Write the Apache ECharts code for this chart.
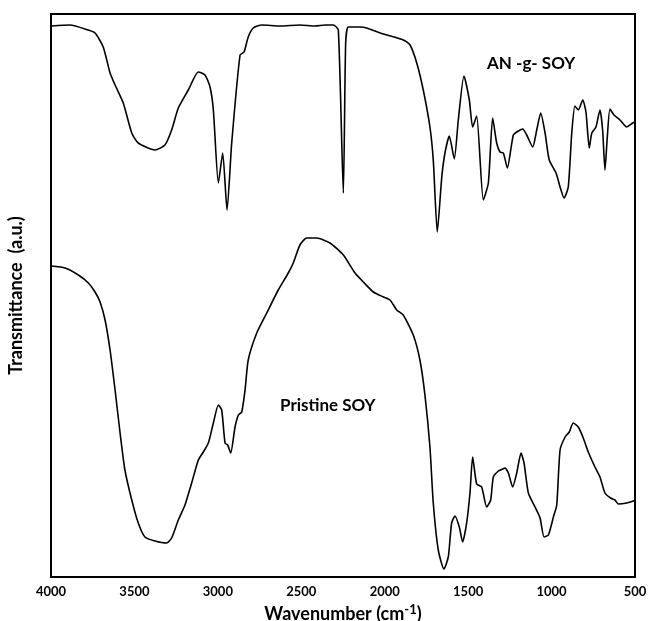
<!DOCTYPE html>
<html>
<head>
<meta charset="utf-8">
<script src="https://cdn.jsdelivr.net/npm/echarts@6/dist/echarts.min.js"></script>
<style>
  html, body { margin: 0; padding: 0; background: #fff; }
  #ftir-chart { width: 651px; height: 621px; }
</style>
</head>
<body>
<div id="ftir-chart"></div>
<script>
// wavenumber ticks (cm-1)
const xTicks = [4000, 3500, 3000, 2500, 2000, 1500, 1000, 500]

// AN-g-SOY spectrum (transmittance, arbitrary units)
const graftWavenumber = [4000, 3886, 3778, 3736, 3687, 3646, 3616, 3567, 3516, 3477, 3377, 3317, 3277, 3237, 3177, 3117, 3077, 3047, 3027, 2997, 2971, 2945, 2917, 2867, 2843, 2818, 2788, 2737, 2628, 2508, 2418, 2358, 2308, 2278, 2248, 2234, 2218, 2148, 2108, 2008, 1889, 1848, 1808, 1769, 1729, 1709, 1685, 1658, 1639, 1613, 1583, 1559, 1525, 1493, 1473, 1449, 1409, 1379, 1353, 1329, 1309, 1289, 1265, 1229, 1199, 1173, 1149, 1113, 1089, 1065, 1039, 1014, 973, 949, 925, 900, 879, 860, 840, 813, 794, 774, 759, 734, 710, 694, 680, 666, 650, 626, 590, 550, 514, 500]
const graftValue = [551, 552, 547, 544, 530, 504, 492, 474, 444, 434, 427, 432, 447, 469, 487, 505, 502, 490, 467, 394, 424, 367, 434, 522, 525, 540, 549, 552, 551, 552, 551, 552, 552, 547, 384, 534, 550, 550, 549, 543, 537, 532, 514, 487, 450, 417, 345, 400, 424, 441, 418, 457, 501, 477, 450, 461, 377, 394, 459, 434, 425, 424, 409, 442, 446, 448, 442, 430, 447, 464, 444, 417, 404, 390, 379, 390, 444, 471, 467, 477, 465, 429, 444, 450, 467, 447, 407, 440, 468, 462, 457, 450, 454, 455]

// Pristine SOY spectrum
const pristineWavenumber = [4000, 3916, 3836, 3776, 3736, 3706, 3676, 3646, 3616, 3586, 3557, 3516, 3477, 3437, 3377, 3307, 3277, 3237, 3197, 3157, 3117, 3087, 3057, 3027, 2997, 2977, 2957, 2941, 2923, 2897, 2877, 2857, 2837, 2818, 2767, 2707, 2638, 2578, 2548, 2508, 2468, 2408, 2328, 2248, 2178, 2128, 2068, 2008, 1968, 1928, 1889, 1829, 1789, 1759, 1729, 1709, 1679, 1645, 1619, 1599, 1579, 1553, 1533, 1509, 1489, 1473, 1449, 1419, 1389, 1365, 1349, 1319, 1293, 1279, 1259, 1233, 1209, 1183, 1165, 1139, 1099, 1069, 1045, 1019, 989, 969, 949, 919, 894, 870, 840, 810, 780, 740, 710, 680, 646, 620, 600, 550, 510, 500]
const pristineValue = [311, 309, 302, 294, 285, 275, 257, 227, 187, 144, 107, 77, 54, 40, 36, 34, 39, 57, 72, 94, 117, 125, 134, 154, 172, 167, 134, 132, 124, 150, 162, 165, 187, 217, 244, 264, 287, 304, 314, 332, 339, 339, 334, 322, 304, 295, 285, 280, 277, 267, 262, 242, 217, 182, 130, 74, 27, 8, 20, 54, 61, 50, 35, 54, 84, 120, 93, 90, 70, 77, 100, 106, 108, 109, 104, 90, 104, 124, 114, 84, 70, 59, 40, 42, 60, 72, 127, 140, 145, 154, 150, 139, 125, 110, 100, 84, 79, 77, 73, 74, 76, 77]

const toPairs = (xs, ys) => xs.map((x, i) => [x, ys[i]])

const fontFamily = 'Lato, "Open Sans", sans-serif'

const ftir_chart = echarts.init(document.querySelector('#ftir-chart'))
const ftir_chart_option = {
  animation: false,
  backgroundColor: '#fff',
  grid: {
    left: 51,
    right: 16,
    top: 14,
    bottom: 44,
    outerBoundsMode: 'none',
    show: true,
    borderColor: '#000',
    borderWidth: 2
  },
  xAxis: {
    type: 'value',
    inverse: true,
    min: 500,
    max: 4000,
    interval: 500,
    splitLine: { show: false },
    axisTick: { show: false },
    axisLine: { show: true, lineStyle: { color: '#000', width: 2 } },
    axisLabel: {
      color: '#000',
      fontFamily: fontFamily,
      fontWeight: 'bold',
      fontSize: 13,
      margin: 8,
      formatter: value => (xTicks.includes(value) ? String(value) : '')
    },
    name: '{a|Wavenumber (cm}{s|-1}{a|)}',
    nameLocation: 'middle',
    nameGap: 21,
    nameTextStyle: {
      rich: {
        a: { fontFamily: fontFamily, fontWeight: 'bold', fontSize: 18, color: '#000' },
        s: { fontFamily: fontFamily, fontWeight: 'bold', fontSize: 13, color: '#000', padding: [0, 0, 10, 0] }
      }
    }
  },
  yAxis: {
    type: 'value',
    min: 0,
    max: 563,
    splitLine: { show: false },
    axisTick: { show: false },
    axisLabel: { show: false },
    axisLine: { show: true, lineStyle: { color: '#000', width: 2 } },
    name: 'Transmittance  (a.u.)',
    nameLocation: 'middle',
    nameGap: 26,
    nameTextStyle: { fontFamily: fontFamily, fontWeight: 'bold', fontSize: 18, color: '#000' }
  },
  series: [
    {
      name: 'AN -g- SOY',
      type: 'line',
      showSymbol: false,
      smooth: 0.2,
      lineStyle: { color: '#000', width: 1.6 },
      data: toPairs(graftWavenumber, graftValue)
    },
    {
      name: 'Pristine SOY',
      type: 'line',
      showSymbol: false,
      smooth: 0.2,
      lineStyle: { color: '#000', width: 1.6 },
      data: toPairs(pristineWavenumber, pristineValue)
    }
  ],
  graphic: [
    {
      type: 'text',
      left: 487,
      top: 55,
      style: { text: 'AN -g- SOY', fontFamily: fontFamily, fontWeight: 'bold', fontSize: 17, fill: '#000' }
    },
    {
      type: 'text',
      left: 280,
      top: 397,
      style: { text: 'Pristine SOY', fontFamily: fontFamily, fontWeight: 'bold', fontSize: 17, fill: '#000' }
    }
  ]
}
ftir_chart.setOption(ftir_chart_option)
</script>
</body>
</html>
